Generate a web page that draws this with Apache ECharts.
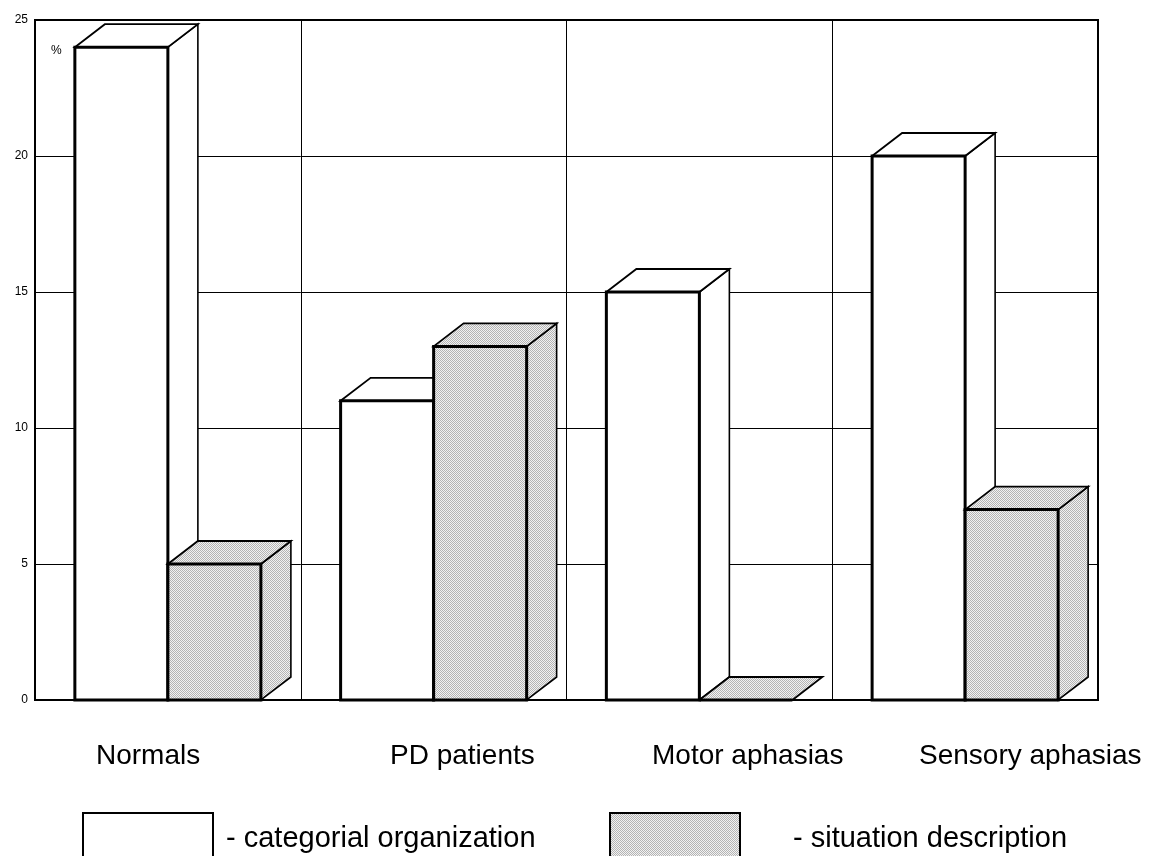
<!DOCTYPE html>
<html>
<head>
<meta charset="utf-8">
<script src="https://cdn.jsdelivr.net/npm/echarts@6/dist/echarts.min.js"></script>
<style>
  html, body { margin: 0; padding: 0; background: #fff; }
  #chart { width: 1156px; height: 856px; }
</style>
</head>
<body>
<div id="chart"></div>
<script>
// Groups along the horizontal axis
const categories = ['Normals', 'PD patients', 'Motor aphasias', 'Sensory aphasias'];
// Percentages per group
const categorialOrganization = [24, 11, 15, 20];
const situationDescription = [5, 13, 0, 7];
// Value axis ticks
const yTicks = [0, 5, 10, 15, 20, 25];
// Series names shown in the key below the chart
const seriesNames = ['- categorial organization', '- situation description'];

// Fine dithered grey used for the second series
function makeDither() {
  const c = document.createElement('canvas');
  c.width = 2; c.height = 2;
  const ctx = c.getContext('2d');
  ctx.fillStyle = '#f2f2f2'; ctx.fillRect(0, 0, 2, 2);
  ctx.fillStyle = '#b4b4b4';
  ctx.fillRect(0, 0, 1, 1);
  ctx.fillRect(1, 1, 1, 1);
  return c;
}
const dither = { image: makeDither(), repeat: 'repeat' };

const DEPTH_X = 30, DEPTH_Y = 23;
const BAR_RATIO = 0.35;

// Draws one 3D box: side face, top face, then the heavy front face
function boxRenderer(slot, fill) {
  return function (params, api) {
    const cat = api.value(0);
    const v = api.value(1);
    const base = api.coord([cat, 0]);
    const top = api.coord([cat, v]);
    const bandW = api.size([1, 0])[0];
    const barW = bandW * BAR_RATIO;
    const x0 = base[0] - barW + slot * barW;
    const x1 = x0 + barW;
    const yb = base[1], yt = top[1];
    const children = [];
    if (v > 0) {
      children.push({
        type: 'polygon',
        shape: { points: [[x1, yt], [x1 + DEPTH_X, yt - DEPTH_Y], [x1 + DEPTH_X, yb - DEPTH_Y], [x1, yb]] },
        style: { fill: fill, stroke: '#000', lineWidth: 1.6, lineJoin: 'miter' }
      });
    }
    children.push({
      type: 'polygon',
      shape: { points: [[x0, yt], [x0 + DEPTH_X, yt - DEPTH_Y], [x1 + DEPTH_X, yt - DEPTH_Y], [x1, yt]] },
      style: { fill: fill, stroke: '#000', lineWidth: 1.8, lineJoin: 'miter' }
    });
    children.push({
      type: 'rect',
      shape: { x: x0, y: yt, width: barW, height: yb - yt },
      style: { fill: fill, stroke: '#000', lineWidth: 3 }
    });
    return { type: 'group', children: children };
  };
}

const chart = echarts.init(document.getElementById('chart'), null, { renderer: 'canvas' });

const labelLeft = [96, 390, 652, 919];
const labelFont = '28px Arial, "Liberation Sans", sans-serif';
const keyFont = '29px Arial, "Liberation Sans", sans-serif';

const graphics = [
  { type: 'text', left: 51, top: 45, style: { text: '%', font: '12px Arial, "Liberation Sans", sans-serif', fill: '#000' } }
];
categories.forEach((c, i) => {
  graphics.push({ type: 'text', left: labelLeft[i], top: 742, style: { text: c, font: labelFont, fill: '#000' } });
});
graphics.push(
  { type: 'rect', shape: { x: 83, y: 813, width: 130, height: 60 }, style: { fill: '#fff', stroke: '#000', lineWidth: 2 } },
  { type: 'text', left: 226, top: 824, style: { text: seriesNames[0], font: keyFont, fill: '#000' } },
  { type: 'rect', shape: { x: 610, y: 813, width: 130, height: 60 }, style: { fill: dither, stroke: '#000', lineWidth: 2 } },
  { type: 'text', left: 793, top: 824, style: { text: seriesNames[1], font: keyFont, fill: '#000' } }
);

chart.setOption({
  animation: false,
  backgroundColor: '#fff',
  grid: { left: 35, top: 20, width: 1063, height: 680, show: true, borderColor: '#000', borderWidth: 2, backgroundColor: 'transparent' },
  xAxis: {
    type: 'category',
    data: categories,
    boundaryGap: true,
    axisLine: { show: true, lineStyle: { color: '#000', width: 2 } },
    axisTick: { show: false },
    axisLabel: { show: false },
    splitLine: { show: true, lineStyle: { color: '#000', width: 1 } }
  },
  yAxis: {
    type: 'value',
    min: yTicks[0],
    max: yTicks[yTicks.length - 1],
    interval: yTicks[1] - yTicks[0],
    axisLine: { show: true, lineStyle: { color: '#000', width: 2 } },
    axisTick: { show: false },
    axisLabel: { color: '#000', fontSize: 12, fontFamily: 'Arial, "Liberation Sans", sans-serif', margin: 7 },
    splitLine: { show: true, lineStyle: { color: '#000', width: 1 } }
  },
  series: [
    {
      name: seriesNames[0],
      type: 'custom',
      renderItem: boxRenderer(0, '#fff'),
      encode: { x: 0, y: 1 },
      data: categorialOrganization.map((v, i) => [i, v]),
      z: 3
    },
    {
      name: seriesNames[1],
      type: 'custom',
      renderItem: boxRenderer(1, dither),
      encode: { x: 0, y: 1 },
      data: situationDescription.map((v, i) => [i, v]),
      z: 4
    }
  ],
  graphic: graphics
});
</script>
</body>
</html>
